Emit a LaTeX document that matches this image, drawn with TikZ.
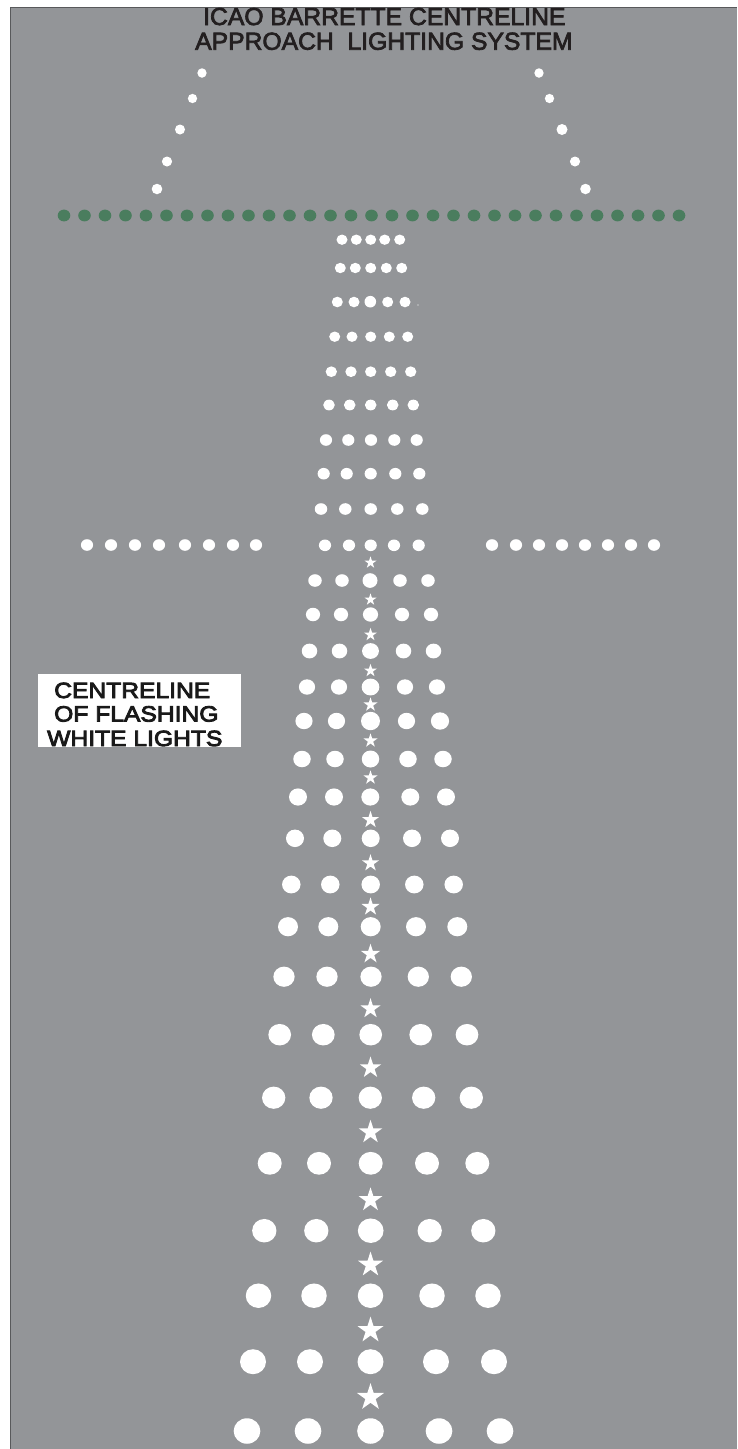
\documentclass[tikz,border=0pt]{standalone}
\usepackage{fontspec}
\newfontfamily\titlef[FakeStretch=1.008,FakeBold=3]{Liberation Sans}
\newfontfamily\boxf[FakeStretch=1.12,FakeBold=4]{Liberation Sans}
\definecolor{ground}{HTML}{939598}
\definecolor{edgeline}{HTML}{58595B}
\definecolor{inkdark}{HTML}{231F20}
\definecolor{greenlamp}{HTML}{4A7D5E}
\tikzset{
  whitelamp/.style={fill=white},
  titletext/.style={anchor=base west,inner sep=0pt,text=inkdark,font=\titlef\fontsize{24.5}{24.5}\selectfont},
  boxtext/.style={anchor=base west,inner sep=0pt,text=black!90,font=\boxf\fontsize{22}{22}\selectfont},
}
% lamp row: y, width, height, list of x
\newcommand\lamprow[4]{\foreach \lx in {#4}{\fill[whitelamp] (\lx,#1) ellipse[x radius={(#2)/2},y radius={(#3)/2}];}}
% flashing star: x, y of bbox centre, width
\newcommand\flashstar[3]{%
  \pgfmathsetmacro\ro{#3/1.902}\pgfmathsetmacro\ri{\ro*0.382}%
  \fill[whitelamp,shift={(#1,#2+0.0955*\ro)}]
    (-90:\ro)--(-54:\ri)--(-18:\ro)--(18:\ri)--(54:\ro)--(90:\ri)--(126:\ro)--(162:\ri)--(198:\ro)--(234:\ri)--cycle;}
\begin{document}
\begin{tikzpicture}[x=1pt,y=-1pt]
\useasboundingbox (0,0) rectangle (737,1449);
\fill[white] (0,0) rectangle (737,1449);
\fill[ground] (10.5,7) rectangle (737,1449);
\draw[edgeline,line width=1pt] (10.5,1449) -- (10.5,7) -- (737,7);
% title
\node[titletext] (title1) at (203,25) {ICAO BARRETTE CENTRELINE};
\node[titletext] (title2) at (195,49.7) {APPROACH\ \ LIGHTING SYSTEM};
% side rows
\lamprow{73}{9.3}{9.5}{202,539}
\lamprow{98.5}{9.3}{9.3}{192.5,549.5}
\lamprow{129.5}{10}{10}{180}
\lamprow{129.5}{11}{11}{562}
\lamprow{161.5}{10.2}{10}{167,575}
\lamprow{189}{10.6}{10.5}{157,585.5}
% green threshold
\foreach \i in {0,...,30}{\fill[greenlamp] (64+20.5*\i,215.5) ellipse[x radius=6.3,y radius=5.9];}
% barrettes, upper
\lamprow{239.7}{11}{10.3}{342,356.3,370.7,384.7,399.7}
\lamprow{268}{11}{10.4}{340.3,355.3,370.7,386.3,401.7}
\lamprow{302}{11}{10.6}{337.3,354,387.7,405}
\lamprow{301.7}{11.6}{11.6}{370.3}
\lamprow{305}{1.2}{1.2}{418}
\lamprow{336.7}{11}{10.4}{334.7,352,370.7,389.3,407.7}
\lamprow{371.7}{11.3}{10.7}{331.3,351,370.7,390.7,410.7}
\lamprow{405}{11.6}{10.7}{329,349.7,370.7,392.7,413.3}
\lamprow{440}{12.2}{11.6}{326,348.3,371,394.3,416.7}
\lamprow{473.7}{12.2}{11.6}{323.7,346.7,370.7,395.3,419.3}
\lamprow{509}{12.5}{11.6}{321,345.3,370.7,397.3,422.3}
\lamprow{545.3}{12.2}{11.6}{325,349,370.7,394,418.7}
\lamprow{545}{12.2}{11.6}{87,111,135,159,185,209,233,256}
\lamprow{545}{12.2}{11.6}{492,516,539,562,585,608,631,654}
% barrettes, lower
\lamprow{580.5}{13.5}{12.6}{315,342,400,428}\lamprow{580.5}{15}{14.7}{370}
\lamprow{614.5}{14.2}{13.5}{313,341,402,431}\lamprow{614.5}{15.2}{14.4}{370.5}
\lamprow{651}{15.5}{14.8}{309.5,339.5,403.5,433.5}\lamprow{651}{16.9}{15.8}{370.5}
\lamprow{687}{16.2}{15.4}{307,339,405,437}\lamprow{687}{17.7}{16.9}{370.5}
\lamprow{721}{17.2}{16.4}{304,336.5,406.5}\lamprow{721}{18.2}{17.4}{440}\lamprow{721}{19}{18.4}{370.5}
\lamprow{759}{17.5}{16.5}{302,335,408,443}\lamprow{759}{17.5}{17}{370.5}
\lamprow{797}{18}{17.2}{298,334,370.3,410.3,446}
\lamprow{838.3}{18}{17.5}{295,332.3,370.7,412,450}
\lamprow{884.5}{18.5}{17.8}{291.3,330.3,370.7,414.3,453.7}
\lamprow{926.7}{20}{19.2}{288,328.3,370.7,416,457.3}
\lamprow{976.7}{21.3}{20.2}{284,327,371,418.3,461.3}
\lamprow{1034.7}{22.7}{21.5}{279.7,323.3,370.7,420.7,467}
\lamprow{1097.7}{23.3}{22.2}{273.7,321,370.3,423.7,471.3}
\lamprow{1163.3}{24}{22.8}{269.7,319,370.7,427,477.3}
\lamprow{1230.7}{24.3}{23.5}{264.3,316.3,429.7,483.3}\lamprow{1230.7}{25.7}{24.5}{370.7}
\lamprow{1295.7}{25.5}{24.5}{258.5,314,370.5,432,488}
\lamprow{1361.7}{26}{25}{253,310,370.5,436,494}
\lamprow{1431}{26.7}{25.5}{247,308,370.5,439,500}
% flashing centreline
\foreach \sy/\sw in {562/12,599/12,634/13,670/13,704/14,740/14,777/14,819/17,862.3/17,906/18,953/19.5,1007.7/20,1066.7/21.5,1131/23.5,1198.7/24,1263.5/25,1329/26,1396/27}{\flashstar{370.5}{\sy}{\sw}}
% label
\fill[white] (38,674) rectangle (241,747);
\node[boxtext] (lab1) at (54,698) {CENTRELINE};
\node[boxtext] (lab2) at (54,721.5) {OF FLASHING};
\node[boxtext] (lab3) at (47,746) {WHITE LIGHTS};
\end{tikzpicture}
\end{document}
